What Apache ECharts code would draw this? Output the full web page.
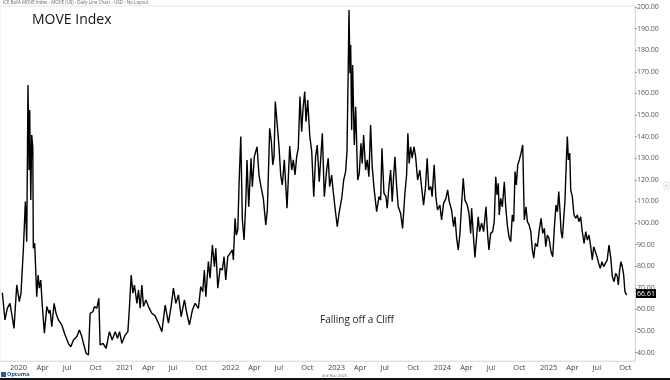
<!DOCTYPE html>
<html>
<head>
<meta charset="utf-8">
<script src="https://cdn.jsdelivr.net/npm/echarts@6/dist/echarts.min.js"></script>
<style>
html,body{margin:0;padding:0;background:#fff;}
#c{width:670px;height:380px;}
</style>
</head>
<body>
<div id="c"></div>
<script>
// Decimal-year positions of the points
const yearFrac = [
2019.937,2019.962,2019.984,2020.009,2020.025,2020.047,2020.073,2020.097,2020.113,2020.135,
2020.154,2020.167,2020.179,2020.189,2020.195,2020.205,2020.214,2020.224,2020.229,2020.242,
2020.261,2020.274,2020.286,2020.299,2020.314,2020.333,2020.356,2020.377,2020.387,2020.403,
2020.425,2020.443,2020.465,2020.497,2020.528,2020.559,2020.582,2020.607,2020.639,2020.663,
2020.686,2020.701,2020.726,2020.748,2020.764,2020.790,2020.805,2020.827,2020.846,2020.858,
2020.884,2020.915,2020.946,2020.972,2021.000,2021.022,2021.041,2021.063,2021.094,2021.120,
2021.135,2021.151,2021.167,2021.182,2021.205,2021.220,2021.236,2021.252,2021.267,2021.290,
2021.314,2021.346,2021.377,2021.409,2021.441,2021.472,2021.503,2021.528,2021.550,2021.573,
2021.597,2021.623,2021.654,2021.676,2021.701,2021.729,2021.755,2021.786,2021.808,2021.827,
2021.842,2021.856,2021.880,2021.896,2021.918,2021.937,2021.950,2021.969,2021.991,2022.012,
2022.028,2022.044,2022.063,2022.085,2022.107,2022.116,2022.132,2022.144,2022.158,2022.170,
2022.186,2022.201,2022.217,2022.233,2022.245,2022.261,2022.283,2022.295,2022.314,2022.330,
2022.340,2022.358,2022.377,2022.399,2022.422,2022.437,2022.459,2022.475,2022.488,2022.500,
2022.512,2022.528,2022.547,2022.563,2022.578,2022.597,2022.623,2022.648,2022.667,2022.682,
2022.698,2022.714,2022.729,2022.745,2022.761,2022.774,2022.790,2022.802,2022.818,2022.837,
2022.856,2022.875,2022.893,2022.908,2022.927,2022.956,2022.975,2022.997,2023.012,2023.025,
2023.044,2023.059,2023.082,2023.097,2023.116,2023.139,2023.158,2023.176,2023.189,2023.201,
2023.208,2023.217,2023.224,2023.233,2023.242,2023.258,2023.271,2023.290,2023.305,2023.321,
2023.333,2023.346,2023.365,2023.380,2023.396,2023.412,2023.427,2023.446,2023.469,2023.491,
2023.507,2023.519,2023.538,2023.557,2023.569,2023.585,2023.601,2023.616,2023.629,2023.642,
2023.658,2023.673,2023.695,2023.714,2023.736,2023.752,2023.764,2023.776,2023.790,2023.805,
2023.821,2023.837,2023.856,2023.877,2023.893,2023.912,2023.931,2023.946,2023.962,2023.981,
2023.993,2024.012,2024.028,2024.044,2024.066,2024.082,2024.101,2024.123,2024.139,2024.154,
2024.176,2024.195,2024.208,2024.224,2024.239,2024.255,2024.271,2024.286,2024.302,2024.324,
2024.340,2024.356,2024.365,2024.380,2024.396,2024.412,2024.427,2024.440,2024.459,2024.478,
2024.500,2024.516,2024.528,2024.544,2024.563,2024.578,2024.592,2024.604,2024.616,2024.625,
2024.639,2024.654,2024.673,2024.686,2024.701,2024.717,2024.733,2024.748,2024.761,2024.774,
2024.786,2024.799,2024.814,2024.830,2024.846,2024.861,2024.877,2024.890,2024.906,2024.922,
2024.937,2024.950,2024.965,2024.984,2025.000,2025.019,2025.035,2025.050,2025.063,2025.078,
2025.094,2025.113,2025.129,2025.144,2025.160,2025.173,2025.186,2025.198,2025.208,2025.220,
2025.233,2025.245,2025.258,2025.267,2025.277,2025.290,2025.299,2025.314,2025.330,2025.346,
2025.361,2025.377,2025.393,2025.408,2025.425,2025.441,2025.456,2025.472,2025.488,2025.503,
2025.516,2025.531,2025.547,2025.563,2025.578,2025.594,2025.610,2025.626,2025.644,2025.660,
2025.676,2025.692,2025.708,2025.724,2025.739,2025.748,2025.761,2025.774,2025.786,2025.799,
2025.811,2025.827
];
// MOVE index values
const moveValues = [
67.7,55.1,60.5,62.8,58.2,51.2,71.3,63.6,67.5,87.5,
109.9,91.3,163.9,124.5,152.3,110.6,140.7,135.3,88.3,90.6,
65.9,75.9,69.8,73.6,61.3,49.0,61.3,58.2,59.7,52.0,
62.8,58.2,55.1,52.8,48.1,44.3,42.7,45.8,47.4,50.5,
47.4,44.3,39.7,38.9,58.2,58.9,61.3,60.5,65.1,43.5,
44.3,42.0,49.7,45.8,49.7,46.6,49.7,44.3,48.1,49.7,
61.3,75.9,67.5,71.3,62.8,69.0,60.5,71.3,61.3,64.4,
61.3,58.2,57.0,53.6,49.7,62.0,53.6,61.3,69.8,62.8,
66.7,56.6,64.4,58.2,52.8,59.7,62.8,60.5,70.5,68.2,
78.2,65.9,82.1,74.4,89.8,79.8,88.3,69.8,79.0,78.2,
84.4,73.6,84.4,85.9,87.5,82.9,102.2,94.4,96.8,118.4,
140.0,101.4,92.1,109.1,129.2,107.5,130.0,116.8,130.7,130.0,
135.3,122.2,116.8,111.4,99.1,106.0,143.8,137.6,126.9,130.7,
156.2,146.9,135.3,122.2,117.6,129.2,106.8,135.6,124.5,129.2,
122.2,130.7,134.6,158.5,142.3,153.1,160.8,146.9,156.9,140.7,
133.0,112.2,131.0,136.1,119.1,141.5,112.2,124.5,130.0,116.8,
122.2,114.5,104.5,98.3,105.2,111.4,119.9,123.8,133.0,172.4,
198.6,169.3,182.4,143.1,173.1,136.1,153.8,119.9,123.0,136.9,
127.6,140.7,124.5,129.2,121.4,145.4,126.1,115.3,105.2,112.2,
110.6,134.6,113.8,112.2,106.8,116.8,124.5,109.9,121.4,130.7,
116.8,107.5,104.5,97.5,113.8,122.2,141.5,127.6,135.3,130.0,
135.3,130.7,119.9,124.5,116.8,108.3,116.8,130.0,115.3,116.8,
112.2,126.9,112.2,106.0,108.3,101.4,109.1,111.4,115.3,109.9,
106.0,98.3,102.9,92.9,87.5,95.2,109.1,120.7,110.6,108.3,
104.5,95.2,106.8,95.2,84.0,93.6,102.9,96.0,99.9,96.0,
107.5,94.4,87.5,95.2,96.0,100.6,121.4,113.0,118.4,103.7,
111.4,107.5,119.1,107.5,99.1,93.6,91.3,103.7,100.6,123.8,
117.6,126.9,129.2,132.3,136.1,101.4,107.5,100.6,99.1,96.0,
87.5,83.7,90.6,89.0,96.0,102.2,95.2,97.5,89.0,94.4,
92.9,86.8,84.4,97.5,108.3,105.2,114.5,105.2,96.0,92.9,
92.1,110.6,129.2,140.0,129.2,132.3,115.3,112.2,103.7,102.2,
103.7,100.6,102.9,96.0,90.6,96.0,92.1,94.4,89.0,82.9,
89.0,89.8,84.4,81.3,79.0,82.1,79.8,79.0,82.9,89.8,
84.4,75.2,72.8,76.7,75.2,71.3,78.2,82.1,79.8,75.9,
68.2,66.61
];
const tickDates = [
'2020-01-01','2020-04-01','2020-07-01','2020-10-01',
'2021-01-01','2021-04-01','2021-07-01','2021-10-01',
'2022-01-01','2022-04-01','2022-07-01','2022-10-01',
'2023-01-01','2023-04-01','2023-07-01','2023-10-01',
'2024-01-01','2024-04-01','2024-07-01','2024-10-01',
'2025-01-01','2025-04-01','2025-07-01','2025-10-01'
];
const tickLabels = [
'2020','Apr','Jul','Oct','2021','Apr','Jul','Oct','2022','Apr','Jul','Oct',
'2023','Apr','Jul','Oct','2024','Apr','Jul','Oct','2025','Apr','Jul','Oct'
];
const yTicks = [40,50,60,70,80,90,100,110,120,130,140,150,160,170,180,190,200];
const lastValue = 66.61;

function yfToTs(t){
  const y = Math.floor(t);
  const s = Date.UTC(y,0,1), e = Date.UTC(y+1,0,1);
  return s + (t - y) * (e - s);
}
const tickTs = tickDates.map(d => Date.parse(d + 'T00:00:00Z'));
const seriesData = yearFrac.map((t,i) => [yfToTs(t), moveValues[i]]);

const chart = echarts.init(document.getElementById('c'), null, {renderer:'canvas'});
const FONT = '"Open Sans", "DejaVu Sans", sans-serif';

chart.setOption({
  animation:false,
  backgroundColor:'#ffffff',
  grid:{left:0, right:35, top:6, bottom:19, show:true, borderColor:'#e6e6e6', borderWidth:1},
  xAxis:{
    type:'value',
    min: yfToTs(2019.915),
    max: yfToTs(2025.906),
    axisLine:{show:true, lineStyle:{color:'#e0e0e0', width:1}},
    axisTick:{show:false},
    splitLine:{show:false},
    axisLabel:{
      customValues: tickTs,
      formatter: function(v){ const i = tickTs.indexOf(v); return i >= 0 ? tickLabels[i] : ''; },
      align:'left', margin:3, color:'#444', fontSize:7.5, fontFamily:FONT,
      padding:[0,0,0,1], showMinLabel:true, showMaxLabel:true, hideOverlap:false
    }
  },
  yAxis:{
    type:'value',
    position:'right',
    min:36.1,
    max:200.46,
    axisLine:{show:true, lineStyle:{color:'#d8d8d8', width:1}},
    axisTick:{show:true, customValues:yTicks, length:2, lineStyle:{color:'#999'}},
    splitLine:{show:false},
    axisLabel:{
      customValues:yTicks,
      formatter: v => v.toFixed(2),
      color:'#555', fontSize:7, fontFamily:FONT, margin:2
    }
  },
  series:[{
    type:'line',
    data:seriesData,
    showSymbol:false,
    lineStyle:{color:'#000', width:1.4},
    silent:true
  }],
  graphic:[
    {type:'text', left:3, top:0, style:{text:'ICE BofA MOVE Index - MOVE (US) - Daily Line Chart - USD - No Layout', fill:'#666', font:'4.5px ' + FONT}},
    {type:'text', left:32, top:13, style:{text:'MOVE Index', fill:'#111', font:'14px ' + FONT}},
    {type:'text', left:320, top:315, style:{text:'Falling off a Cliff', fill:'#222', font:'10px ' + FONT}},
    {type:'rect', shape:{x:636, y:289, width:20, height:9}, style:{fill:'#000'}},
    {type:'text', x:646, y:293.5, style:{text:lastValue.toFixed(2), fill:'#fff', font:'7px ' + FONT, align:'center', verticalAlign:'middle'}},
    {type:'rect', shape:{x:664, y:182, width:5, height:7}, style:{fill:'#fff', stroke:'#ccc', lineWidth:0.6}},
    {type:'text', x:666.5, y:185.5, style:{text:'‹', fill:'#666', font:'6px ' + FONT, align:'center', verticalAlign:'middle'}},
    {type:'rect', shape:{x:0, y:378, width:670, height:2}, style:{fill:'#111'}},
    {type:'rect', shape:{x:1, y:372, width:5, height:5}, style:{fill:'#1e5aa8'}},
    {type:'text', left:7, top:371.5, style:{text:'Optuma', fill:'#1e4f9a', font:'bold 5.5px ' + FONT}},
    {type:'text', left:322, top:373.5, style:{text:'3rd Nov 2025', fill:'#666', font:'4px ' + FONT}}
  ]
});
</script>
</body>
</html>
